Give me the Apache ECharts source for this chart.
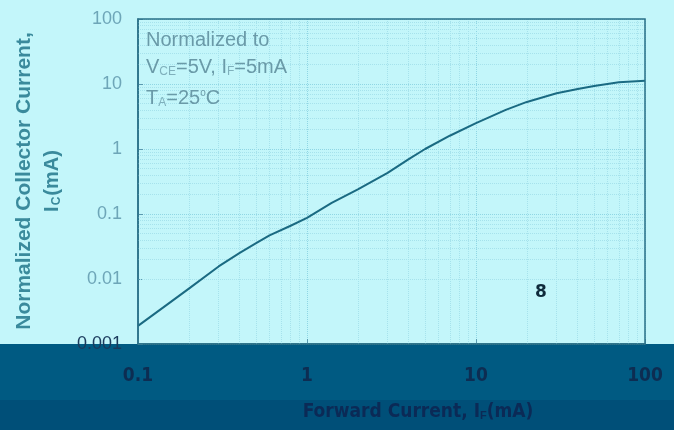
<!DOCTYPE html>
<html><head><meta charset="utf-8">
<script src="https://cdn.jsdelivr.net/npm/echarts@6/dist/echarts.min.js"></script>
<style>html,body{margin:0;padding:0;background:#c3f6fa}#c{width:674px;height:430px}</style>
</head><body><div id="c"></div>
<script>
var forwardCurrent = [0.1, 0.15, 0.2, 0.3, 0.4, 0.5, 0.6, 0.8, 1, 1.4, 2, 3, 4, 5, 7, 10, 15, 20, 30, 40, 50, 70, 100];
var collectorCurrent = [0.0019, 0.0041, 0.0071, 0.0156, 0.0253, 0.0355, 0.047, 0.066, 0.087, 0.148, 0.24, 0.43, 0.70, 1.0, 1.6, 2.5, 4.0, 5.3, 7.2, 8.4, 9.3, 10.6, 11.2];
var xTicks = [0.1, 1, 10, 100];
var yTicks = [0.001, 0.01, 0.1, 1, 10, 100];
var minorMult = [2, 3, 4, 5, 6, 7, 8, 9];

var xMinor = [], yMinor = [];
[0.1, 1, 10].forEach(function (d) { minorMult.forEach(function (m) { xMinor.push(+(d * m).toPrecision(3)); }); });
[0.001, 0.01, 0.1, 1, 10].forEach(function (d) { minorMult.forEach(function (m) { yMinor.push(+(d * m).toPrecision(3)); }); });

var chart = echarts.init(document.getElementById('c'));
var fmt = function (v) { return String(+(+v).toPrecision(3)); };
var lineData = forwardCurrent.map(function (x, i) { return [x, collectorCurrent[i]]; });

chart.setOption({
  backgroundColor: '#c3f6fa',
  animation: false,
  grid: { left: 138, right: 29, top: 19, bottom: 86, containLabel: false },
  xAxis: {
    type: 'log', logBase: 10, min: 0.1, max: 100,
    axisLine: { show: true, onZero: false, lineStyle: { color: '#1f5f7c', width: 1.5 } },
    axisTick: { show: true, inside: true, length: 5, lineStyle: { color: '#5a9ab0' } },
    axisLabel: { margin: 23, color: '#0d2d52', fontSize: 19, fontWeight: 'bold', fontFamily: 'Liberation Sans Narrow, DejaVu Sans Condensed, sans-serif', formatter: fmt },
    splitLine: { show: true, lineStyle: { color: '#8fd6e4', type: 'dotted', width: 1 } }
  },
  yAxis: {
    type: 'log', logBase: 10, min: 0.001, max: 100,
    axisLine: { show: true, onZero: false, lineStyle: { color: '#2a7088', width: 1.5 } },
    axisTick: { show: true, inside: true, length: 5, lineStyle: { color: '#5a9ab0' } },
    axisLabel: { margin: 16, fontSize: 18, fontFamily: 'Liberation Sans, sans-serif', formatter: fmt,
      color: function (v) { return (+v) <= 0.0011 ? '#1a3a5c' : '#6ea6b8'; } },
    splitLine: { show: true, lineStyle: { color: '#8fd6e4', type: 'dotted', width: 1 } }
  },
  graphic: [
    { type: 'rect', z: -10, silent: true, shape: { x: 0, y: 344, width: 674, height: 56 }, style: { fill: '#005a82' } },
    { type: 'rect', z: -10, silent: true, shape: { x: 0, y: 400, width: 674, height: 30 }, style: { fill: '#004f78' } },
    { type: 'rect', z: 50, silent: true, shape: { x: 138, y: 19, width: 507, height: 325 }, style: { fill: 'none', stroke: '#2a7088', lineWidth: 1.5 } },
    { type: 'text', z: 60, x: 24, y: 181, rotation: Math.PI / 2, style: { text: 'Normalized Collector Current,', fill: '#3a8a9c', font: 'bold 21px Liberation Sans, Arial, sans-serif', textAlign: 'center', textVerticalAlign: 'middle' } },
    { type: 'text', z: 60, x: 52, y: 181, rotation: Math.PI / 2, style: { text: '{n|I}{s|C}{n|(mA)}', fill: '#3a8a9c', textAlign: 'center', textVerticalAlign: 'middle',
      rich: { n: { font: 'bold 20px Liberation Sans, Arial, sans-serif', fill: '#3a8a9c' }, s: { font: 'bold 12px Liberation Sans, Arial, sans-serif', fill: '#3a8a9c', padding: [9, 1, 0, 1] } } } },
    { type: 'text', z: 60, x: 418, y: 412, style: { text: '{n|Forward Current, I}{s|F}{n|(mA)}', textAlign: 'center', textVerticalAlign: 'middle',
      rich: { n: { font: 'bold 19px Liberation Sans Narrow, DejaVu Sans Condensed, sans-serif', fill: '#0b2a56' }, s: { font: 'bold 11px Liberation Sans Narrow, sans-serif', fill: '#0b2a56', padding: [8, 0, 0, 0] } } } },
    { type: 'text', z: 60, x: 146, y: 40, style: { text: 'Normalized to', font: '20px Liberation Sans, Arial, sans-serif', fill: '#6a9aa8', textVerticalAlign: 'middle' } },
    { type: 'text', z: 60, x: 146, y: 67, style: { text: '{n|V}{s|CE}{n|=5V, I}{s|F}{n|=5mA}', textVerticalAlign: 'middle',
      rich: { n: { font: '20px Liberation Sans, Arial, sans-serif', fill: '#6a9aa8' }, s: { font: '12px Liberation Sans, Arial, sans-serif', fill: '#7fb0bc', padding: [10, 0, 0, 0] } } } },
    { type: 'text', z: 60, x: 146, y: 98, style: { text: '{n|T}{s|A}{n|=25}{u|o}{n|C}', textVerticalAlign: 'middle',
      rich: { n: { font: '20px Liberation Sans, Arial, sans-serif', fill: '#6a9aa8' }, s: { font: '12px Liberation Sans, Arial, sans-serif', fill: '#7fb0bc', padding: [10, 0, 0, 0] }, u: { font: '10px Liberation Sans, Arial, sans-serif', fill: '#6a9aa8', padding: [0, 0, 10, 0] } } } },
    { type: 'text', z: 60, x: 541, y: 293, style: { text: '8', font: 'bold 17px DejaVu Sans, sans-serif', fill: '#0e2a3a', textAlign: 'center', textVerticalAlign: 'middle' } }
  ],
  series: [
    {
      type: 'line', data: lineData, showSymbol: false, smooth: false,
      lineStyle: { color: '#1a6a82', width: 2, join: 'round' }, z: 5,
      markLine: {
        silent: true, symbol: 'none', label: { show: false },
        lineStyle: { color: '#a6e2ec', type: 'dotted', width: 1 },
        data: xMinor.map(function (v) { return { xAxis: v }; }).concat(yMinor.map(function (v) { return { yAxis: v }; }))
      }
    }
  ]
});
</script></body></html>
